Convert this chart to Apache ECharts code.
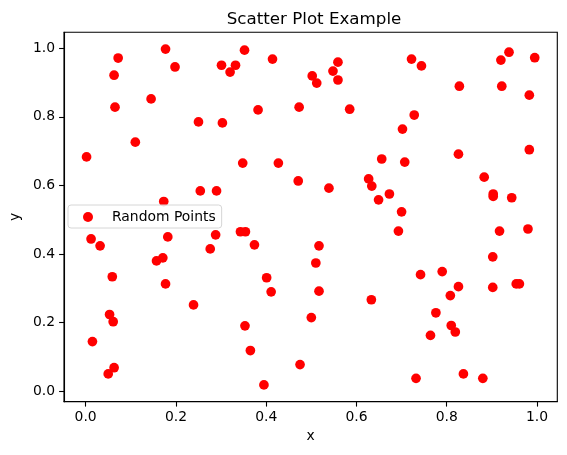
<!DOCTYPE html>
<html>
<head>
<meta charset="utf-8">
<script src="https://cdn.jsdelivr.net/npm/echarts@6/dist/echarts.min.js"></script>
<style>
  html, body {margin: 0; padding: 0; background: #fff;}
  #chart {width: 567px; height: 455px;}
</style>
</head>
<body>
<div id="chart"></div>
<script>
// point coordinates
let xs = [
  0.002, 0.063, 0.072, 0.065, 0.145, 0.110, 0.177, 0.198, 0.250, 0.303,
  0.301, 0.332, 0.320, 0.352, 0.382, 0.414, 0.348, 0.427, 0.254, 0.290,
  0.173, 0.473, 0.471, 0.502, 0.512, 0.559, 0.548, 0.559, 0.585, 0.722,
  0.744, 0.938, 0.920, 0.995, 0.828, 0.922, 0.983, 0.728, 0.702, 0.656,
  0.707, 0.826, 0.983, 0.539, 0.627, 0.634, 0.673, 0.649, 0.883, 0.903,
  0.903, 0.944, 0.700, 0.012, 0.032, 0.059, 0.053, 0.061, 0.015, 0.063,
  0.050, 0.182, 0.171, 0.157, 0.177, 0.239, 0.288, 0.276, 0.343, 0.354,
  0.374, 0.401, 0.411, 0.353, 0.365, 0.395, 0.475, 0.500, 0.517, 0.510,
  0.517, 0.693, 0.917, 0.980, 0.902, 0.742, 0.790, 0.826, 0.808, 0.902,
  0.954, 0.961, 0.633, 0.776, 0.810, 0.819, 0.764, 0.732, 0.837, 0.880
];
let ys = [
  0.683, 0.921, 0.971, 0.828, 0.852, 0.726, 0.997, 0.945, 0.785, 0.782,
  0.950, 0.950, 0.930, 0.994, 0.820, 0.968, 0.665, 0.665, 0.584, 0.584,
  0.553, 0.828, 0.613, 0.919, 0.898, 0.959, 0.933, 0.907, 0.822, 0.968,
  0.948, 0.988, 0.965, 0.972, 0.889, 0.889, 0.863, 0.805, 0.764, 0.677,
  0.668, 0.691, 0.704, 0.592, 0.619, 0.598, 0.575, 0.558, 0.624, 0.575,
  0.568, 0.564, 0.523, 0.444, 0.424, 0.334, 0.224, 0.203, 0.145, 0.069,
  0.051, 0.450, 0.389, 0.380, 0.313, 0.252, 0.456, 0.415, 0.465, 0.465,
  0.427, 0.331, 0.290, 0.191, 0.119, 0.019, 0.078, 0.215, 0.424, 0.374,
  0.292, 0.467, 0.467, 0.473, 0.392, 0.340, 0.349, 0.305, 0.279, 0.303,
  0.313, 0.313, 0.267, 0.229, 0.192, 0.173, 0.163, 0.038, 0.051, 0.038
];
let ticks = [0, 0.2, 0.4, 0.6, 0.8, 1.0];
let seriesName = 'Random Points';

let font = 'DejaVu Sans';
let points = xs.map(function (x, i) {
  return [x, ys[i]];
});

// matplotlib style axis
let makeAxis = function (name, min, max, gap, pos) {
  return {
    type: 'value', name: name, position: pos,
    nameLocation: 'middle', nameGap: gap,
    nameTextStyle: {fontFamily: font, fontSize: 13.9, color: '#000'},
    min: min, max: max,
    splitLine: {show: false},
    axisLine: {show: true, onZero: false, lineStyle: {color: '#000', width: 1.1}},
    axisTick: {show: true, inside: false, length: 4.9, customValues: ticks,
      lineStyle: {color: '#000', width: 1.1}},
    axisLabel: {show: true, customValues: ticks, margin: 9,
      fontFamily: font, fontSize: 13.9, color: '#000',
      formatter: function (v) { return v.toFixed(1); }}
  };
};

let chart = echarts.init(document.getElementById('chart'), null, {renderer: 'canvas'});
chart.setOption({
  animation: false,
  backgroundColor: '#fff',
  title: {
    text: 'Scatter Plot Example', left: 309, top: 6, textAlign: 'center',
    textStyle: {fontFamily: font, fontSize: 16.7, fontWeight: 'normal', color: '#000'}
  },
  legend: {
    left: 68, top: 205, orient: 'vertical',
    padding: [5, 6, 4, 15],
    itemWidth: 10, itemHeight: 10,
    backgroundColor: 'rgba(255,255,255,0.8)',
    borderColor: '#d6d6d6', borderWidth: 1, borderRadius: 3,
    textStyle: {fontFamily: font, fontSize: 13.9, color: '#000', padding: [0, 0, 0, 14]},
    data: [{name: seriesName, icon: 'circle'}]
  },
  grid: {
    left: 61.3, right: 9.7, top: 32.3, bottom: 53.3,
    show: true, borderColor: '#000', borderWidth: 1.1,
    containLabel: false
  },
  xAxis: makeAxis('x', -0.048, 1.045, 27, 'bottom'),
  yAxis: makeAxis('y', -0.030, 1.046, 40, 'left'),
  series: [
    {
      name: seriesName, type: 'scatter', data: points,
      symbol: 'circle', symbolSize: 9.7,
      itemStyle: {color: '#ff0000', opacity: 1}
    }
  ]
});
</script>
</body>
</html>
